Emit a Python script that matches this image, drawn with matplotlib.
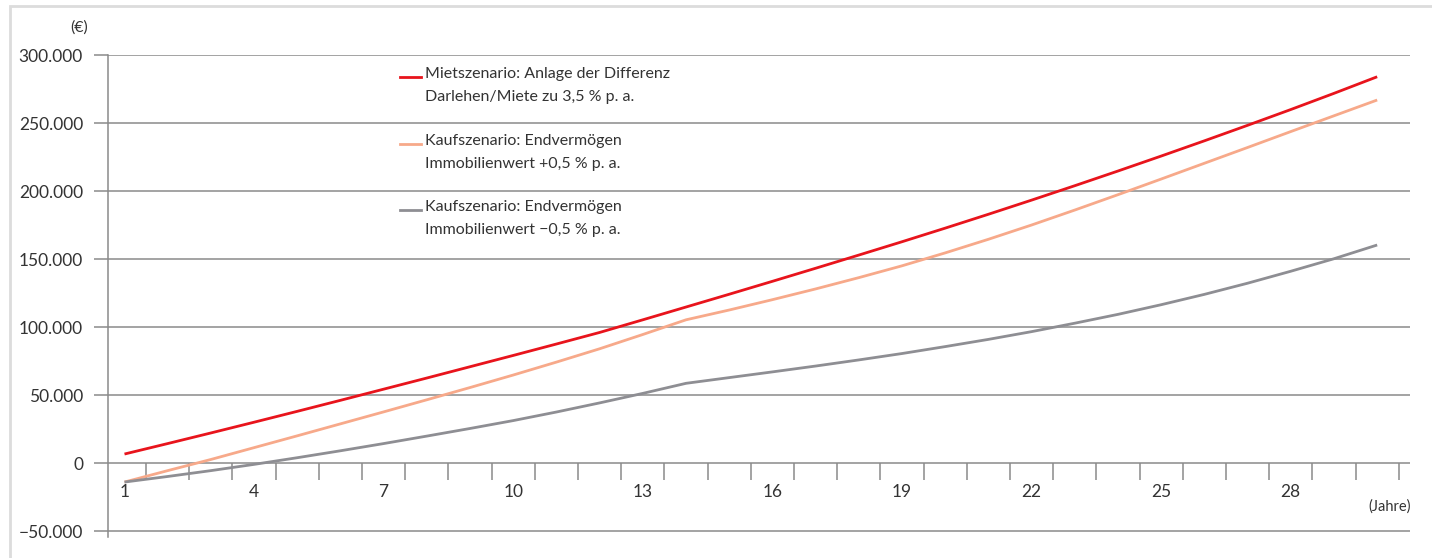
import matplotlib
matplotlib.use("Agg")
import matplotlib.pyplot as plt
from matplotlib.lines import Line2D
from matplotlib.patches import Rectangle
from matplotlib.ticker import FuncFormatter

# -------------------------------
# Data: Vermögen je Jahr (EUR)
# -------------------------------

jahre = list(range(1, 31))

miete = [6600, 14300, 22100, 30000, 38000, 46100, 54300, 62500, 70800, 79100,
         87500, 96000, 105300, 114700, 124100, 133600, 143200, 152900, 162700, 172700,
         182900, 193300, 203900, 214700, 225700, 236900, 248300, 259900, 271800, 284000]

kauf_plus = [-14000, -5600, 2600, 11300, 20000, 28800, 37600, 46500, 55500, 64700,
             74200, 84000, 94500, 105300, 112500, 120100, 128000, 136300, 145000, 154500,
             164500, 175000, 186000, 197300, 208800, 220400, 232000, 243700, 255300, 266900]

kauf_minus = [-14000, -9900, -5600, -1000, 3900, 9000, 14300, 19800, 25400, 31200,
              37500, 44200, 51200, 58600, 62800, 67000, 71300, 75800, 80500, 85600,
              90900, 96600, 102800, 109300, 116400, 124000, 132200, 141000, 150200, 160300]

labels = ["Mietszenario: Anlage der Differenz\nDarlehen/Miete zu 3,5 % p. a.",
          "Kaufszenario: Endvermögen\nImmobilienwert +0,5 % p. a.",
          "Kaufszenario: Endvermögen\nImmobilienwert \u22120,5 % p. a."]
colors = ["#e8141c", "#f7a98a", "#8e8e93"]

y_ticks = [-50000, 0, 50000, 100000, 150000, 200000, 250000, 300000]
x_labels = [1, 4, 7, 10, 13, 16, 19, 22, 25, 28]

# -------------------------------
# Figure
# -------------------------------

plt.rcParams['font.family'] = ['Lato', 'DejaVu Sans']
text_col = "#333333"
grid_col = "#8a8a8a"

fig = plt.figure(figsize=(14.32, 5.58), dpi=100)
ax = fig.add_axes([108 / 1432, 1 - 537 / 558, 1302 / 1432, 482 / 558])

for serie, col in zip([miete, kauf_plus, kauf_minus], colors):
    ax.plot(jahre, serie, color=col, lw=2.0, solid_capstyle='butt', zorder=3)

ax.set_ylim(-54400, 300000)
ax.set_xlim(0.618, 30.76)

# y axis with horizontal grid
ax.set_yticks(y_ticks)
ax.yaxis.set_major_formatter(FuncFormatter(
    lambda v, p: "\u221250.000" if v < 0 else f"{int(v):,}".replace(",", ".")))
ax.yaxis.grid(True, color=grid_col, lw=1.1)
ax.set_axisbelow(True)
ax.tick_params(axis='y', length=10, width=1.1, color=grid_col,
               labelsize=12.5, labelcolor=text_col, pad=8)

# x axis sits on the zero line
ax.spines['bottom'].set_position(('data', 0))
ax.spines['bottom'].set_visible(False)
ax.spines['top'].set_visible(False)
ax.spines['right'].set_visible(False)
ax.spines['left'].set_color(grid_col)
ax.spines['left'].set_linewidth(1.1)

ax.set_xticks(x_labels)
ax.set_xticks([j + 0.5 for j in jahre], minor=True)
ax.tick_params(axis='x', which='major', length=0, pad=15,
               labelsize=12.5, labelcolor=text_col)
ax.tick_params(axis='x', which='minor', length=12, width=1.1, color=grid_col)

fig.text(88 / 1432, 1 - 28 / 558, "(\u20ac)", ha='right', va='center',
         fontsize=11.5, color=text_col)
fig.text(1411 / 1432, 1 - 507 / 558, "(Jahre)", ha='right', va='center',
         fontsize=10.5, color=text_col)

# legend entries, key line aligned with the first text line
for i, (lab, col) in enumerate(zip(labels, colors)):
    y0 = 1 - (77 + i * 66.5) / 558
    fig.add_artist(Line2D([400 / 1432, 421 / 1432], [y0, y0], color=col, lw=2.0,
                          transform=fig.transFigure))
    fig.text(425 / 1432, y0 + 10 / 558, lab, ha='left', va='top', fontsize=11.5,
             color=text_col, linespacing=1.85)

# light frame around the chart
fig.add_artist(Rectangle((10 / 1432, -0.05), 1.1, 1.05 - 6 / 558,
                         transform=fig.transFigure, fill=False,
                         edgecolor="#dcdcdc", lw=2))

fig.savefig("out.png", dpi=100)
